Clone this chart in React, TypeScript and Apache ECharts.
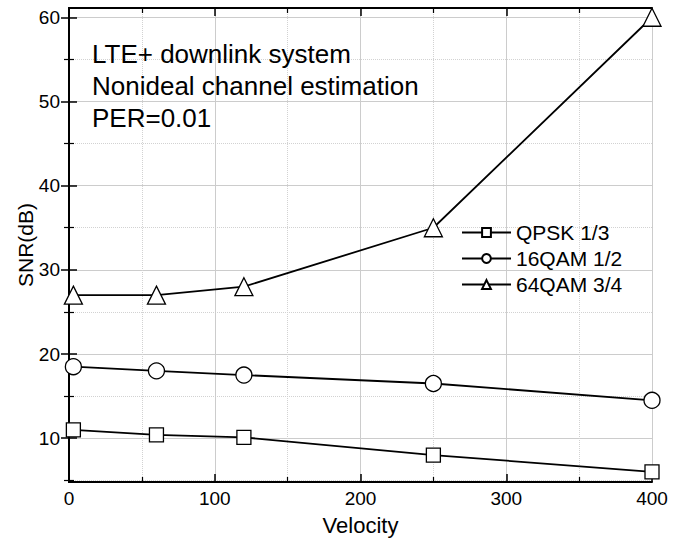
import React, { useEffect, useRef } from "react";
import * as echarts from "echarts";

const velocity = [3, 60, 120, 250, 400];
const qpsk = [11, 10.4, 10.1, 8, 6];
const qam16 = [18.5, 18, 17.5, 16.5, 14.5];
const qam64 = [27, 27, 28, 35, 60];
const seriesNames = ["QPSK 1/3", "16QAM 1/2", "64QAM 3/4"];
const yTicks = [10, 20, 30, 40, 50, 60];
const annotations = ["LTE+ downlink system", "Nonideal channel estimation", "PER=0.01"];

const FONT = "Liberation Sans, Arial, sans-serif";

export default function App() {
  const ref = useRef<HTMLDivElement>(null);
  useEffect(() => {
    if (!ref.current) return;
    const chart = echarts.init(ref.current, undefined, { renderer: "svg" });
    const mk = (arr: number[]) => velocity.map((v, i) => [v, arr[i]]);
    const axisLine = { show: true, lineStyle: { color: "#000", width: 2 } };
    const tick = { show: true, inside: true, length: 8, lineStyle: { color: "#000", width: 1.5 } };
    const minorTick = { show: true, splitNumber: 2, length: 5, lineStyle: { color: "#000", width: 1.2 } };
    const major = { show: true, lineStyle: { color: "#cccccc", width: 1, type: "solid" } };
    const minor = { show: true, lineStyle: { color: "#d2d2d2", width: 1, type: "dotted" } };
    const seriesStyle = (symbol: string, size: number) => ({
      type: "line",
      symbol,
      symbolSize: size,
      showAllSymbol: true,
      lineStyle: { color: "#000", width: 1.8 },
      itemStyle: { color: "#fff", borderColor: "#000", borderWidth: 1.3 },
      z: 3,
    });
    chart.setOption({
      animation: false,
      backgroundColor: "#fff",
      grid: { left: 69, right: 30, top: 8, bottom: 56, outerBoundsMode: "none", containLabel: false },
      xAxis: [
        {
          type: "value",
          min: 0,
          max: 400,
          interval: 100,
          name: "Velocity",
          nameLocation: "middle",
          nameGap: 32,
          nameMoveOverlap: false,
          nameTextStyle: { fontFamily: FONT, fontSize: 22, color: "#000" },
          axisLine,
          axisTick: tick,
          minorTick,
          splitLine: major,
          minorSplitLine: minor,
          axisLabel: { fontFamily: FONT, fontSize: 19, color: "#000", margin: 7 },
        },
        {
          type: "value",
          position: "top",
          min: 0,
          max: 400,
          interval: 100,
          axisLine,
          axisTick: tick,
          minorTick,
          splitLine: { show: false },
          axisLabel: { show: false },
        },
      ],
      yAxis: [
        {
          type: "value",
          min: 4.8,
          max: 61.1,
          splitNumber: 5,
          name: "SNR(dB)",
          nameLocation: "middle",
          nameGap: 33,
          nameMoveOverlap: false,
          nameTextStyle: { fontFamily: FONT, fontSize: 21, color: "#000" },
          axisLine,
          axisTick: { ...tick, customValues: yTicks },
          minorTick,
          splitLine: major,
          minorSplitLine: minor,
          axisLabel: { fontFamily: FONT, fontSize: 19, color: "#000", margin: 9, customValues: yTicks },
        },
        {
          type: "value",
          position: "right",
          min: 4.8,
          max: 61.1,
          splitNumber: 5,
          axisLine,
          axisTick: { ...tick, customValues: yTicks },
          minorTick,
          splitLine: { show: false },
          axisLabel: { show: false, customValues: yTicks },
        },
      ],
      legend: {
        orient: "vertical",
        left: 456,
        top: 217,
        itemWidth: 49,
        itemHeight: 11,
        itemGap: 5,
        textStyle: { fontFamily: FONT, fontSize: 21, color: "#000" },
        data: seriesNames,
      },
      graphic: annotations.map((t, i) => ({
        type: "text",
        left: 92,
        top: 41 + i * 32,
        style: { text: t, font: `26px ${FONT}`, fill: "#000" },
        z: 10,
      })),
      series: [
        { name: seriesNames[0], ...seriesStyle("rect", 14), data: mk(qpsk) },
        { name: seriesNames[1], ...seriesStyle("circle", 16), data: mk(qam16) },
        { name: seriesNames[2], ...seriesStyle("triangle", 18), data: mk(qam64) },
      ],
    });
    return () => chart.dispose();
  }, []);
  return <div ref={ref} style={{ width: 682, height: 538, position: "absolute", left: 0, top: 0 }} />;
}
